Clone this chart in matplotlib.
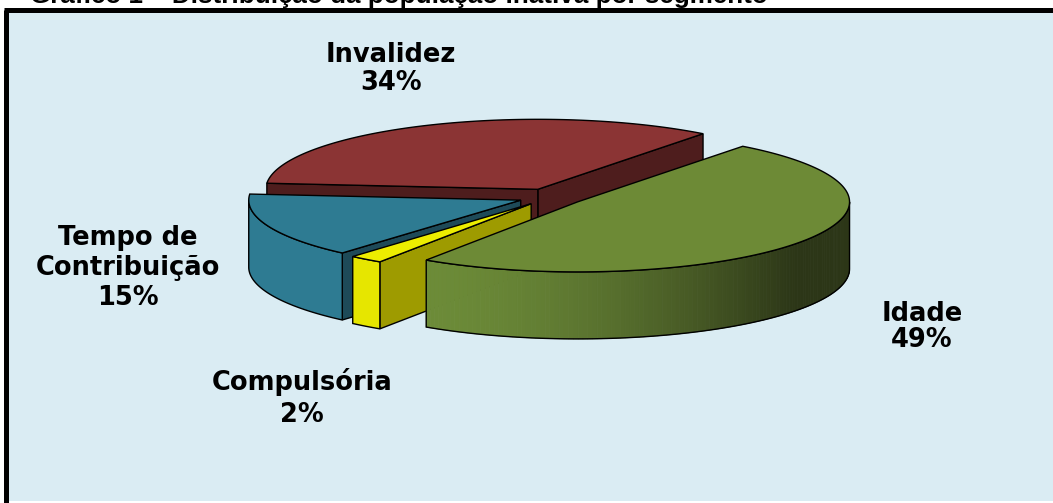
import numpy as np
import matplotlib.pyplot as plt
from matplotlib.patches import Polygon, Rectangle

# Data
categories = ['Idade', 'Compulsória', 'Tempo de\nContribuição', 'Invalidez']
values = [49, 2, 15, 34]
title = 'Gráfico 1 – Distribuição da população inativa por segmento'

# colours per slice: top, side wall, cut face
top_colors = ['#6D8A36', '#EDED00', '#2E7B92', '#8B3434']
side_colors = ['#6B8A37', '#E6E600', '#2E7B92', '#4E1D1D']
cut_colors = ['#4A5E26', '#9E9B00', '#1E4A58', '#4E1D1D']

# label placement (center x, baseline y of first line), line pitch
label_pos = [(922, 321), (302, 390), (128, 245), (391, 62)]
line_pitch = [26, 32, 30, 28]

# 3D pie geometry in pixels
W, H = 1053, 503
CX, CY = 551, 197
RX, RY = 272, 70
DEPTH = 67
EXPLODE = 0.12
START = 52.6  # first edge, slices go clockwise

fig = plt.figure(figsize=(W / 100, H / 100), dpi=100)
ax = fig.add_axes([0, 0, 1, 1])
ax.set_xlim(0, W)
ax.set_ylim(H, 0)
ax.axis('off')

# chart area with border (left and top visible only)
ax.add_patch(Rectangle((6, 9.5), 1100, 491.5, facecolor='#DAECF3', edgecolor='none', zorder=0))
ax.plot([6, 6], [9.5, 503], color='black', lw=3.6, solid_capstyle='butt', zorder=10)
ax.plot([4, W], [9.5, 9.5], color='black', lw=3.6, solid_capstyle='butt', zorder=10)
# title is cropped at the top edge in the source image
ax.text(30, 3, title, fontsize=18.7, fontweight='bold', family='Liberation Sans',
        va='baseline', ha='left', zorder=1)


def arc(ox, oy, t0, t1, z=0.0):
    ts = np.radians(np.linspace(t0, t1, max(2, int(abs(t1 - t0)) + 2)))
    return np.column_stack([ox + RX * np.cos(ts), oy - RY * np.sin(ts) + z])


fracs = np.array(values) / np.sum(values)
edges = START - 360 * np.concatenate([[0], np.cumsum(fracs)])

cut_order = []
for i in range(len(values)):
    a, b = edges[i + 1], edges[i]
    mid = np.radians((a + b) / 2)
    ox = CX + EXPLODE * RX * np.cos(mid)
    oy = CY - EXPLODE * RY * np.sin(mid)

    # cut faces
    for t, nrm in ((a, a - 90), (b, b + 90)):
        if np.sin(np.radians(nrm)) < 0:
            px, py = arc(ox, oy, t, t)[0]
            poly = [(ox, oy), (px, py), (px, py + DEPTH), (ox, oy + DEPTH)]
            cut_order.append((-np.sin(mid), poly, cut_colors[i]))

    # side wall (front half only)
    for k in (-1, 0, 1):
        lo, hi = max(a, -180 + 360 * k), min(b, 360 * k)
        if hi <= lo:
            continue
        up = arc(ox, oy, lo, hi)
        dn = arc(ox, oy, lo, hi, DEPTH)
        if i == 0:
            # shaded side for the big slice
            x0, x1 = up[:, 0].min(), up[:, 0].max()
            c0 = np.array([0x6C, 0x8B, 0x38]) / 255
            c1 = np.array([0x2C, 0x36, 0x17]) / 255
            for j in range(len(up) - 1):
                f = np.clip((up[j, 0] - x0) / (0.87 * (x1 - x0)), 0, 1) ** 1.6
                q = [up[j], up[j + 1], dn[j + 1], dn[j]]
                ax.add_patch(Polygon(q, closed=True, facecolor=c0 + (c1 - c0) * f,
                                     edgecolor=c0 + (c1 - c0) * f, lw=0.6, zorder=3))
            ax.add_patch(Polygon(np.vstack([up, dn[::-1]]), closed=True, facecolor='none',
                                 edgecolor='black', lw=1.0, zorder=3.5))
        else:
            ax.add_patch(Polygon(np.vstack([up, dn[::-1]]), closed=True, facecolor=side_colors[i],
                                 edgecolor='black', lw=1.0, zorder=3))

    # top face
    top = np.vstack([[(ox, oy)], arc(ox, oy, a, b)])
    ax.add_patch(Polygon(top, closed=True, facecolor=top_colors[i], edgecolor='black', lw=1.0, zorder=4))

for n, (key, poly, col) in enumerate(sorted(cut_order, key=lambda c: c[0])):
    ax.add_patch(Polygon(poly, closed=True, facecolor=col, edgecolor='black', lw=1.0, zorder=2 + n * 0.01))

# data labels
for i, cat in enumerate(categories):
    x, y = label_pos[i]
    lines = cat.split('\n') + [f'{values[i]}%']
    for j, line in enumerate(lines):
        ax.text(x, y + j * line_pitch[i], line, fontsize=18.5, fontweight='bold',
                family='DejaVu Sans', ha='center', va='baseline', zorder=6)

fig.savefig('out.png', dpi=100, facecolor='white')
